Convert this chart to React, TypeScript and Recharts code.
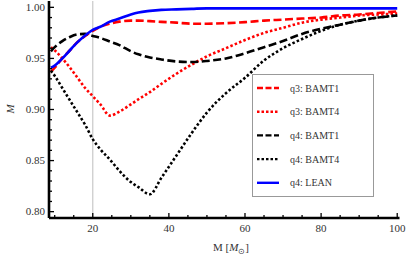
import {
    Label,
    Legend,
    Line,
    LineChart,
    ReferenceLine,
    XAxis,
    YAxis,
} from "recharts";

// mass M in solar masses
const masses = [
    9, 10, 12, 14, 16, 18, 20, 22, 24.5, 27, 30, 32, 35, 38, 42, 46, 50, 55, 60,
    65, 70, 75, 80, 85, 90, 95, 100,
];

const q3Bamt1 = [
    0.937, 0.941, 0.95, 0.958, 0.966, 0.972, 0.977, 0.981, 0.984, 0.986, 0.987,
    0.987, 0.9865, 0.9858, 0.985, 0.984, 0.984, 0.9845, 0.9855, 0.987, 0.988,
    0.989, 0.99, 0.992, 0.993, 0.9945, 0.996,
];
const q3Bamt4 = [
    0.961, 0.958, 0.95, 0.941, 0.931, 0.921, 0.913, 0.905, 0.894, 0.898, 0.905,
    0.91, 0.917, 0.925, 0.935, 0.944, 0.952, 0.96, 0.968, 0.975, 0.98, 0.985,
    0.988, 0.99, 0.992, 0.993, 0.994,
];
const q4Bamt1 = [
    0.957, 0.961, 0.967, 0.971, 0.9735, 0.974, 0.972, 0.97, 0.9665, 0.963,
    0.957, 0.954, 0.951, 0.949, 0.947, 0.9465, 0.9475, 0.95, 0.955, 0.961,
    0.967, 0.974, 0.979, 0.983, 0.987, 0.99, 0.992,
];
const q4Bamt4 = [
    0.938, 0.933, 0.921, 0.909, 0.897, 0.885, 0.871, 0.861, 0.851, 0.84, 0.829,
    0.824, 0.817, 0.833, 0.855, 0.877, 0.897, 0.916, 0.931, 0.948, 0.96, 0.969,
    0.977, 0.983, 0.987, 0.99, 0.992,
];
const q4Lean = [
    0.941, 0.943, 0.95, 0.958, 0.966, 0.9725, 0.978, 0.981, 0.986, 0.989, 0.993,
    0.995, 0.9965, 0.9975, 0.998, 0.9985, 0.999, 0.999, 0.999, 0.999, 0.999,
    0.999, 0.999, 0.999, 0.999, 0.999, 0.999,
];

const xTicks = [10, 15, 20, 25, 30, 35, 40, 45, 50, 55, 60, 65, 70, 75, 80, 85, 90, 95, 100];
const xLabels = [20, 40, 60, 80, 100];
const yTicks = [
    0.8, 0.81, 0.82, 0.83, 0.84, 0.85, 0.86, 0.87, 0.88, 0.89, 0.9, 0.91, 0.92,
    0.93, 0.94, 0.95, 0.96, 0.97, 0.98, 0.99, 1.0,
];
const yLabels = [0.8, 0.85, 0.9, 0.95, 1.0];

const series = [
    { key: "q3Bamt1", name: "q3: BAMT1", color: "#ff0000", dash: "8 3.5", legendDash: "6 2.5" },
    { key: "q3Bamt4", name: "q3: BAMT4", color: "#ff0000", dash: "2.5 2.2", legendDash: "2.5 2" },
    { key: "q4Bamt1", name: "q4: BAMT1", color: "#000000", dash: "8 3.5", legendDash: "6 2.5" },
    { key: "q4Bamt4", name: "q4: BAMT4", color: "#000000", dash: "2.5 2.2", legendDash: "2.5 2" },
    { key: "q4Lean", name: "q4: LEAN", color: "#0000ff", dash: undefined, legendDash: undefined },
];

const data = masses.map((m, i) => ({
    m,
    q3Bamt1: q3Bamt1[i],
    q3Bamt4: q3Bamt4[i],
    q4Bamt1: q4Bamt1[i],
    q4Bamt4: q4Bamt4[i],
    q4Lean: q4Lean[i],
}));

const FONT = "'Liberation Serif', 'Times New Roman', serif";
const xDomain = [8.5, 100.6];
const yDomain = [0.7938, 1.0062];

const isMajorX = (v: number) => xLabels.includes(v);
const isMajorY = (v: number) => yLabels.some((l) => Math.abs(l - v) < 1e-6);

const BottomTick = ({ x, y, payload }: any) => {
    const major = isMajorX(payload.value);
    return (
        <g>
            <line x1={x} x2={x} y1={y} y2={y - (major ? 5 : 3)} stroke="#000" strokeWidth={1.3} />
            {major && (
                <text x={x} y={y + 14} textAnchor="middle" fontFamily={FONT} fontSize={11} fill="#333">
                    {payload.value}
                </text>
            )}
        </g>
    );
};

const TopTick = ({ x, y, payload }: any) => (
    <line x1={x} x2={x} y1={y} y2={y + (isMajorX(payload.value) ? 5 : 3)} stroke="#000" strokeWidth={1.3} />
);

const LeftTick = ({ x, y, payload }: any) => {
    const major = isMajorY(payload.value);
    return (
        <g>
            <line x1={x} x2={x + (major ? 5 : 3)} y1={y} y2={y} stroke="#000" strokeWidth={1.3} />
            {major && (
                <text x={x - 4} y={y + 3.8} textAnchor="end" fontFamily={FONT} fontSize={11} fill="#333">
                    {payload.value.toFixed(2)}
                </text>
            )}
        </g>
    );
};

const RightTick = ({ x, y, payload }: any) => (
    <line x1={x} x2={x - (isMajorY(payload.value) ? 5 : 3)} y1={y} y2={y} stroke="#000" strokeWidth={1.3} />
);

const LegendBox = ({ payload }: any) => (
    <div
        style={{
            width: 122,
            height: 123,
            border: "1px solid #999",
            boxSizing: "border-box",
            background: "#fff",
        }}
    >
        <svg width={120} height={121} style={{ display: "block" }}>
            {(payload || []).map((entry: any, i: number) => {
                const s = series.find((d) => d.name === entry.value);
                const cy = 13 + i * 23.7;
                return (
                    <g key={entry.value}>
                        <line
                            x1={4}
                            x2={26}
                            y1={cy}
                            y2={cy}
                            stroke={entry.color}
                            strokeWidth={2.4}
                            strokeDasharray={s?.legendDash}
                        />
                        <text x={37} y={cy + 3.5} fontFamily={FONT} fontSize={10} fill="#333">
                            {entry.value}
                        </text>
                    </g>
                );
            })}
        </svg>
    </div>
);

const App = () => {
    return (
        <div style={{ position: "absolute", left: 0, top: 0 }}>
            <LineChart
                width={415}
                height={259}
                data={data}
                margin={{ top: 1, right: 15.5, left: 0, bottom: 0 }}
            >
                <ReferenceLine x={20} stroke="#c8c8c8" strokeWidth={1.2} />
                <XAxis
                    dataKey="m"
                    type="number"
                    domain={xDomain}
                    allowDataOverflow
                    ticks={xTicks}
                    interval={0}
                    height={41}
                    tickSize={0}
                    tickMargin={0}
                    tickLine={false}
                    tick={<BottomTick />}
                    axisLine={{ stroke: "#000", strokeWidth: 2.6 }}
                >
                    <Label
                        content={() => (
                            <text x={231} y={251} textAnchor="middle" fontFamily={FONT} fontSize={11} fill="#333">
                                M [<tspan fontStyle="italic">M</tspan>
                                <tspan fontSize={8} dy={3}>⊙</tspan>
                                <tspan dy={-3}>]</tspan>
                            </text>
                        )}
                    />
                </XAxis>
                <XAxis
                    xAxisId="top"
                    orientation="top"
                    type="number"
                    domain={xDomain}
                    allowDataOverflow
                    ticks={xTicks}
                    interval={0}
                    height={0}
                    tickSize={0}
                    tickMargin={0}
                    tickLine={false}
                    tick={<TopTick />}
                    axisLine={{ stroke: "#000", strokeWidth: 2.6 }}
                />
                <YAxis
                    type="number"
                    domain={yDomain}
                    allowDataOverflow
                    ticks={yTicks}
                    interval={0}
                    width={49}
                    tickSize={0}
                    tickMargin={0}
                    tickLine={false}
                    tick={<LeftTick />}
                    axisLine={{ stroke: "#000", strokeWidth: 2.6 }}
                >
                    <Label
                        content={() => (
                            <text
                                x={14}
                                y={109}
                                textAnchor="middle"
                                transform="rotate(-90 14 109)"
                                fontFamily={FONT}
                                fontStyle="italic"
                                fontSize={11}
                                fill="#333"
                            >
                                M
                            </text>
                        )}
                    />
                </YAxis>
                <YAxis
                    yAxisId="right"
                    orientation="right"
                    type="number"
                    domain={yDomain}
                    allowDataOverflow
                    ticks={yTicks}
                    interval={0}
                    width={0}
                    tickSize={0}
                    tickMargin={0}
                    tickLine={false}
                    tick={<RightTick />}
                    axisLine={{ stroke: "#000", strokeWidth: 2.6 }}
                />
                {series.map((s) => (
                    <Line
                        key={s.key}
                        type="monotone"
                        dataKey={s.key}
                        name={s.name}
                        stroke={s.color}
                        strokeWidth={2.6}
                        strokeDasharray={s.dash}
                        dot={false}
                        activeDot={false}
                        isAnimationActive={false}
                    />
                ))}
                <Legend
                    layout="vertical"
                    align="center"
                    verticalAlign="middle"
                    content={<LegendBox />}
                    wrapperStyle={{ left: 252, top: 74, width: 122, height: 123 }}
                />
            </LineChart>
        </div>
    );
};

export default App;
